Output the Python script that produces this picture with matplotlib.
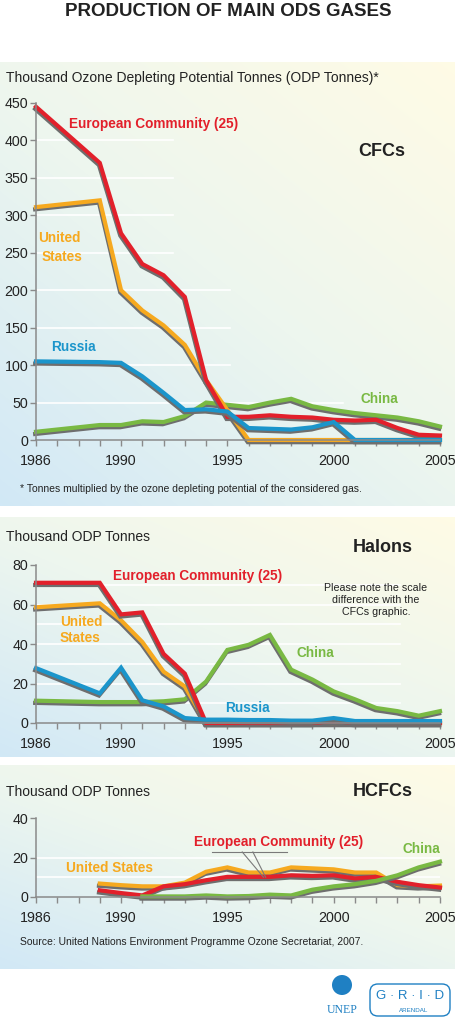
import numpy as np
import matplotlib
matplotlib.use("Agg")
import matplotlib.pyplot as plt
import matplotlib.patheffects as pe
from matplotlib.patches import FancyBboxPatch, Circle

plt.rcParams['font.family'] = ['Liberation Sans', 'DejaVu Sans']

W, H = 456, 1024

years = list(range(1986, 2006))

# CFCs, thousand ODP tonnes (None = no value)
cfc_ec = [445, None, None, 370, 276, 235, 220, 191, 80, 31, 31, 33, 31, 30, 27, 26, 27, 16, 7, 6]
cfc_us = [311, None, None, 320, 200, 173, 153, 127, 80, 40, 0, 0, 0, 0, 0, 0, 0, 0, 0, 0]
cfc_ru = [105, None, None, 104, 103, 85, 63, 40, 41, 38, 16, 15, 14, 17, 24, 0, 0, 0, 0, 0]
cfc_cn = [11, 14, 17, 20, 20, 25, 24, 32, 50, 47, 44, 50, 55, 45, 40, 36, 33, 30, 25, 18]

# Halons
hal_ec = [71, None, None, 71, 55, 56, 35, 25, 0, 0, 0, 0, 0, 0, 1, 0, 0, 0, 0, 0]
hal_us = [58.6, None, None, 60.6, 52, 41, 26, 18.5, 0, 0, 0, 0, 0, 0, 0, 0, 0, 0, 0, 0]
hal_ru = [27.8, None, None, 15, 28, 11.5, 8.4, 2.5, 1.7, 1.7, 1.5, 1.5, 1.2, 1.2, 2.5, 1, 1, 1, 1, 1]
hal_cn = [11.3, None, None, 10.6, 10.6, 10.6, 11, 12, 21, 37, 39.6, 44.6, 27, 22, 16, 12, 7.6, 6, 3.7, 6]

# HCFCs
hcfc_us = [None, None, None, 6.8, 6, 5.4, 5.4, 7.3, 12.8, 15, 12.4, 12.4, 15, 14.5, 14, 12.4, 12.4, 6, 5.4, 5.8]
hcfc_ec = [None, None, None, 3.4, 2, 0.8, 5.4, 6.5, 8.5, 10.2, 10.2, 10.2, 11, 10.7, 11, 9.4, 10.2, 7.7, 6, 4.8]
hcfc_cn = [None, None, None, None, None, 0.3, 0.3, 0.3, 0.8, 0.3, 0.5, 1.2, 0.8, 3.7, 5.4, 6.5, 8.2, 11, 15, 17.9]

RED = '#e2202b'
ORANGE = '#f6a91f'
BLUE = '#1b95cb'
GREEN = '#79b943'
SHADOW = '#6e6e6e'
TXT = '#222222'


def fx(x):
    return x / W


def fy(y):
    return 1 - y / H


fig = plt.figure(figsize=(W / 100, H / 100), dpi=100)

# background panels with gradient
bg = fig.add_axes([0, 0, 1, 1])
bg.set_axis_off()
img = np.ones((H, W, 3))
blue = np.array([0.82, 0.91, 0.965])
mint = np.array([0.93, 0.965, 0.935])
cream = np.array([1.0, 0.985, 0.90])
for top, bot in [(62, 506), (517, 757), (765, 969)]:
    yy, xx = np.mgrid[top:bot, 0:W]
    t = 0.55 * (1 - (yy - top) / (bot - top)) + 0.45 * (xx / W)
    t = t[..., None]
    col = np.where(t < 0.5, blue + (mint - blue) * (t / 0.5),
                   mint + (cream - mint) * ((t - 0.5) / 0.5))
    img[top:bot] = col
bg.imshow(img, extent=[0, W, H, 0], aspect='auto', interpolation='bilinear')
bg.set_xlim(0, W)
bg.set_ylim(H, 0)


def make_axes(y0, ytop, ymax, yticks, grids):
    ax = fig.add_axes([fx(36), fy(y0), fx(440) - fx(36), (y0 - ytop) / H])
    ax.set_facecolor('none')
    ax.set_xlim(1986, 2005)
    ax.set_ylim(0, ymax)
    for s in ['top', 'right']:
        ax.spines[s].set_visible(False)
    for s in ['left', 'bottom']:
        ax.spines[s].set_color('#8a8a8a')
        ax.spines[s].set_linewidth(1.1)
    ax.set_xticks(years)
    ax.set_xticklabels([str(y) if y in (1986, 1990, 1995, 2000, 2005) else '' for y in years])
    ax.set_yticks(yticks)
    ax.tick_params(axis='both', colors='#8a8a8a', labelcolor=TXT, labelsize=10.3,
                   length=4, width=1.0)
    ax.tick_params(axis='x', pad=6)
    ax.tick_params(axis='y', pad=1.5)
    for val, frac in grids:
        ax.axhline(val, xmin=0, xmax=frac, color='white', lw=1.2, zorder=0)
    return ax


def draw(ax, vals, color):
    xs = [y for y, v in zip(years, vals) if v is not None]
    ys = [v for v in vals if v is not None]
    ax.plot(xs, ys, color=color, lw=3.0, solid_joinstyle='miter', clip_on=False,
            path_effects=[pe.SimpleLineShadow(offset=(-0.6, -1.6), shadow_color=SHADOW, alpha=1),
                          pe.Normal()])


# ---------- CFCs ----------
ax1 = make_axes(440, 103, 450, range(0, 451, 50),
                [(400, 0.34), (350, 0.34), (300, 0.34), (250, 0.34),
                 (200, 0.48), (150, 0.48), (100, 0.48), (50, 0.76)])
draw(ax1, cfc_cn, GREEN)
draw(ax1, cfc_us, ORANGE)
draw(ax1, cfc_ec, RED)
draw(ax1, cfc_ru, BLUE)

# ---------- Halons ----------
ax2 = make_axes(723, 565, 80, range(0, 81, 20),
                [(v, 0.9) for v in range(10, 80, 10)])
draw(ax2, hal_cn, GREEN)
draw(ax2, hal_us, ORANGE)
draw(ax2, hal_ec, RED)
draw(ax2, hal_ru, BLUE)

# ---------- HCFCs ----------
ax3 = make_axes(897, 818, 40, range(0, 41, 20), [(10, 1.0), (20, 1.0)])
draw(ax3, hcfc_us, ORANGE)
draw(ax3, hcfc_ec, RED)
draw(ax3, hcfc_cn, GREEN)
# leader lines for the EC label
ax3.plot([1994.3, 1997.8], [22.8, 22.8], color='#7a7a7a', lw=0.8, clip_on=False)
ax3.plot([1995.7, 1996.7], [22.8, 10], color='#7a7a7a', lw=0.8, clip_on=False)
ax3.plot([1996.2, 1996.8], [22.8, 10], color='#7a7a7a', lw=0.8, clip_on=False)


def label(x, y, s, color=TXT, size=10, weight='normal', ha='left', **kw):
    fig.text(fx(x), fy(y), s, color=color, fontsize=size, fontweight=weight,
             ha=ha, va='center', **kw)


label(228, 12, 'PRODUCTION OF MAIN ODS GASES', size=13.5, weight='bold', ha='center')

label(6, 78, 'Thousand Ozone Depleting Potential Tonnes (ODP Tonnes)*', size=10)
label(69, 124, 'European Community (25)', RED, 9.8, 'bold')
label(358, 152, 'CFCs', size=13, weight='bold')
label(38, 238, 'United', ORANGE, 9.8, 'bold')
label(42, 257, 'States', ORANGE, 9.8, 'bold')
label(51, 347, 'Russia', BLUE, 9.8, 'bold')
label(361, 399, 'China', GREEN, 9.8, 'bold')
label(20, 489, '* Tonnes multiplied by the ozone depleting potential of the considered gas.', size=7.5)

label(6, 537, 'Thousand ODP Tonnes', size=10)
label(353, 548, 'Halons', size=13, weight='bold')
label(113, 576, 'European Community (25)', RED, 9.8, 'bold')
label(60, 622, 'United', ORANGE, 9.8, 'bold')
label(60, 638, 'States', ORANGE, 9.8, 'bold')
fig.text(fx(376), fy(600), 'Please note the scale\ndifference with the\nCFCs graphic.',
         fontsize=7.7, color=TXT, ha='center', va='center', linespacing=1.2)
label(297, 653, 'China', GREEN, 9.8, 'bold')
label(225, 708, 'Russia', BLUE, 9.8, 'bold')

label(6, 792, 'Thousand ODP Tonnes', size=10)
label(353, 791, 'HCFCs', size=13, weight='bold')
label(194, 842, 'European Community (25)', RED, 9.8, 'bold')
label(66, 868, 'United States', ORANGE, 9.8, 'bold')
label(403, 849, 'China', GREEN, 9.8, 'bold')
label(20, 942, 'Source: United Nations Environment Programme Ozone Secretariat, 2007.', size=7.5)

# logos (simplified)
LOGO = '#1f80c3'
bg.add_patch(Circle((342, 985), 10, facecolor=LOGO, edgecolor='none'))
bg.text(342, 1010, 'UNEP', color=LOGO, fontsize=8.5, family='Liberation Serif',
        ha='center', va='center')
bg.add_patch(FancyBboxPatch((370, 984), 80, 32, boxstyle='round,pad=0,rounding_size=8',
                            facecolor='none', edgecolor=LOGO, lw=1.0))
bg.text(410, 996, 'G \u00b7 R \u00b7 I \u00b7 D', color=LOGO, fontsize=9.5, ha='center', va='center')
bg.text(414, 1010, 'ARENDAL', color=LOGO, fontsize=4.5, ha='center', va='center')

fig.savefig('out.png', dpi=100)
